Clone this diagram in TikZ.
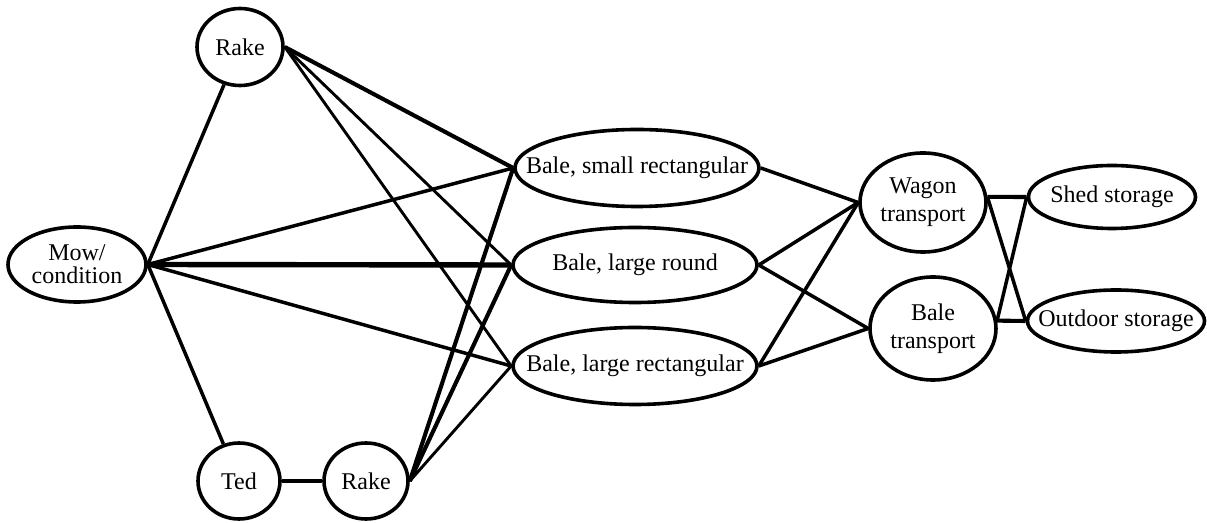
\documentclass[tikz,border=0pt]{standalone}
\usepackage{fontspec}
\setmainfont{Liberation Serif}
\usetikzlibrary{shapes.geometric}
\begin{document}
\begin{tikzpicture}[x=0.5pt,y=-0.5pt,
  ell/.style={draw, ellipse, line width=1.8pt, inner sep=0pt},
  txt/.style={font=\rmfamily\fontsize{12}{14}\selectfont, align=center, inner sep=0pt},
  lnA/.style={line width=1.45pt},
  lnB/.style={line width=1.75pt},
  lnC/.style={line width=2.05pt},
  lnD/.style={line width=2.7pt}]
\useasboundingbox (0,0) rectangle (1207,523);
% ellipses
\node[ell, minimum width=43pt, minimum height=38.5pt] (rake1) at (240,47) {};
\node[ell, minimum width=69pt, minimum height=37.5pt] (mow) at (77,264.5) {};
\node[ell, minimum width=41pt, minimum height=38pt] (ted) at (239,481) {};
\node[ell, minimum width=42pt, minimum height=38pt] (rake2) at (366,481) {};
\node[ell, minimum width=122pt, minimum height=38.5pt] (bs) at (637,168) {};
\node[ell, minimum width=122pt, minimum height=37.5pt] (br) at (635,265) {};
\node[ell, minimum width=122pt, minimum height=38.5pt] (bl) at (635,366) {};
\node[ell, minimum width=63pt, minimum height=49.5pt] (wagon) at (923,202.5) {};
\node[ell, minimum width=63pt, minimum height=51.5pt] (bt) at (933,328.5) {};
\node[ell, minimum width=83.5pt, minimum height=31.5pt] (shed) at (1112,197) {};
\node[ell, minimum width=88.5pt, minimum height=31pt] (outdoor) at (1116,321) {};
% texts
\node[txt] (rake1-t) at (rake1) {Rake};
\node[txt, font=\rmfamily\fontsize{12}{11.7}\selectfont] (mow-t) at (mow) {Mow/\\condition};
\node[txt] (ted-t) at (ted) {Ted};
\node[txt] (rake2-t) at (rake2) {Rake};
\node[txt] (bs-t) at (bs) {Bale, small rectangular};
\node[txt] (br-t) at (br) {Bale, large round};
\node[txt] (bl-t) at (bl) {Bale, large rectangular};
\node[txt] (wagon-t) at (wagon) {Wagon\\transport};
\node[txt] (bt-t) at (bt) {Bale\\transport};
\node[txt] (shed-t) at (shed) {Shed storage};
\node[txt] (outdoor-t) at (outdoor) {Outdoor storage};
% connectors
\draw[lnB] (mow.east) -- (rake1);
\draw[lnB] (mow.east) -- (ted);
\draw[lnB] (mow.east) -- (bs.west);
\draw[lnD] (mow.east) -- (br.west);
\draw[lnB] (mow.east) -- (bl.west);
\draw[lnC] (rake1.east) -- (bs.west);
\draw[lnA] (rake1.east) -- (br.west);
\draw[lnA] (rake1.east) -- (bl.west);
\draw[lnC] (ted.east) -- (rake2.west);
\draw[lnC] (rake2.east) -- (bs.west);
\draw[lnC] (rake2.east) -- (br.west);
\draw[lnA] (rake2.east) -- (bl.west);
\draw[lnB] (bs.east) -- (wagon.west);
\draw[lnB] (br.east) -- (wagon.west);
\draw[lnB] (br.east) -- (bt.west);
\draw[lnB] (bl.east) -- (wagon.west);
\draw[lnB] (bl.east) -- (bt.west);
\draw[lnC] (wagon.5) -- (shed.west);
\draw[lnB] (wagon.5) -- (outdoor.west);
\draw[lnC] (bt.7) -- (outdoor.west);
\draw[lnB] (bt.7) -- (shed.west);
\end{tikzpicture}
\end{document}
